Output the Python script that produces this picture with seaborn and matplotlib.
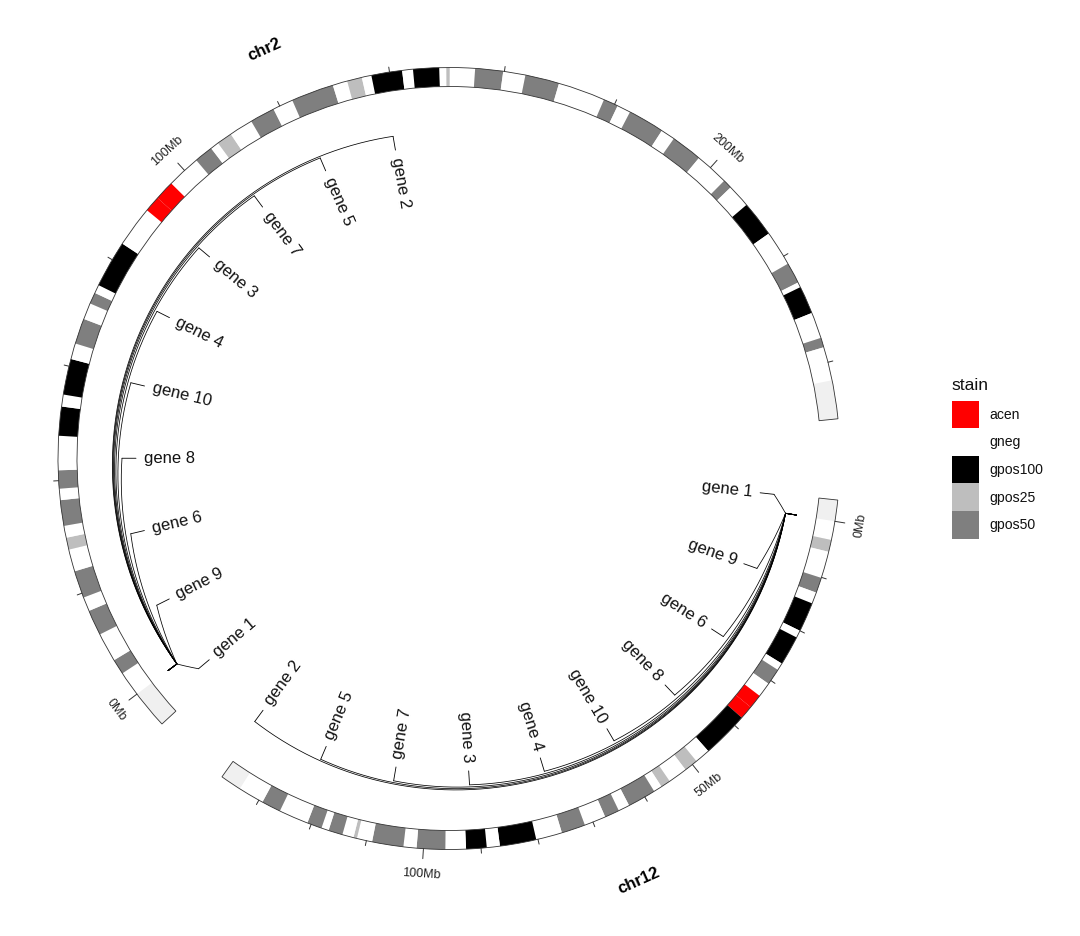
import numpy as np
import pandas as pd
import matplotlib
matplotlib.use("Agg")
import matplotlib.pyplot as plt
from matplotlib.patches import Patch
import seaborn as sns

sns.set_theme(style="white")
plt.rcParams["font.family"] = ["Liberation Sans", "DejaVu Sans"]

# ------------------------------------------------------------------ data
chromosomes = ["chr2", "chr12"]
chrom_length_mb = [243.2, 133.85]

chr2_band_start = [0.0, 4.4, 7.1, 12.2, 16.7, 19.2, 24.0, 27.9, 30.0, 32.1, 36.6, 38.6, 41.8,
                   47.8, 52.9, 55.0, 61.3, 64.1, 68.6, 71.5, 73.5, 75.0, 83.3, 90.5, 93.3, 96.8,
                   102.7, 106.0, 107.5, 110.2, 114.4, 118.8, 122.4, 129.9, 132.5, 135.1, 136.8,
                   142.2, 144.1, 148.7, 149.9, 150.5, 154.9, 159.8, 163.7, 169.7, 178.0, 180.6,
                   183.0, 189.4, 191.9, 197.4, 203.3, 204.9, 209.0, 215.3, 221.5, 225.2, 226.1,
                   231.0, 235.6, 237.3]
chr2_band_end = [4.4, 7.1, 12.2, 16.7, 19.2, 24.0, 27.9, 30.0, 32.1, 36.6, 38.6, 41.8, 47.8,
                 52.9, 55.0, 61.3, 64.1, 68.6, 71.5, 73.5, 75.0, 83.3, 90.5, 93.3, 96.8, 102.7,
                 106.0, 107.5, 110.2, 114.4, 118.8, 122.4, 129.9, 132.5, 135.1, 136.8, 142.2,
                 144.1, 148.7, 149.9, 150.5, 154.9, 159.8, 163.7, 169.7, 178.0, 180.6, 183.0,
                 189.4, 191.9, 197.4, 203.3, 204.9, 209.0, 215.3, 221.5, 225.2, 226.1, 231.0,
                 235.6, 237.3, 243.2]
chr2_band_stain = ["gneg", "gpos50", "gneg", "gpos50", "gneg", "gpos50", "gneg", "gpos25",
                   "gneg", "gpos50", "gneg", "gpos50", "gneg", "gpos100", "gneg", "gpos100",
                   "gneg", "gpos50", "gneg", "gpos50", "gneg", "gpos100", "gneg", "acen", "acen",
                   "gneg", "gpos50", "gneg", "gpos25", "gneg", "gpos50", "gneg", "gpos50", "gneg",
                   "gpos25", "gneg", "gpos100", "gneg", "gpos100", "gneg", "gpos25", "gneg",
                   "gpos50", "gneg", "gpos50", "gneg", "gpos50", "gneg", "gpos50", "gneg",
                   "gpos50", "gneg", "gpos50", "gneg", "gpos100", "gneg", "gpos50", "gneg",
                   "gpos100", "gneg", "gpos50", "gneg"]

chr12_band_start = [0.0, 3.3, 5.4, 10.1, 12.8, 14.8, 20.0, 21.3, 26.5, 27.8, 30.7, 33.3, 35.8,
                    38.2, 46.4, 49.1, 51.5, 54.9, 56.6, 58.1, 63.1, 65.1, 67.7, 71.5, 75.7, 80.3,
                    86.7, 89.0, 92.6, 96.2, 101.2, 103.5, 109.0, 111.7, 112.3, 114.3, 116.8,
                    118.1, 120.7, 125.9, 129.3]
chr12_band_end = [3.3, 5.4, 10.1, 12.8, 14.8, 20.0, 21.3, 26.5, 27.8, 30.7, 33.3, 35.8, 38.2,
                  46.4, 49.1, 51.5, 54.9, 56.6, 58.1, 63.1, 65.1, 67.7, 71.5, 75.7, 80.3, 86.7,
                  89.0, 92.6, 96.2, 101.2, 103.5, 109.0, 111.7, 112.3, 114.3, 116.8, 118.1,
                  120.7, 125.9, 129.3, 133.85]
chr12_band_stain = ["gneg", "gpos25", "gneg", "gpos50", "gneg", "gpos100", "gneg", "gpos100",
                    "gneg", "gpos50", "gneg", "acen", "acen", "gpos100", "gneg", "gpos25",
                    "gneg", "gpos25", "gneg", "gpos50", "gneg", "gpos50", "gneg", "gpos50",
                    "gneg", "gpos100", "gneg", "gpos100", "gneg", "gpos50", "gneg", "gpos50",
                    "gneg", "gpos25", "gneg", "gpos50", "gneg", "gpos50", "gneg", "gpos50",
                    "gneg"]

stain_levels = ["acen", "gneg", "gpos100", "gpos25", "gpos50"]
stain_colors = ["#FF0000", "#FFFFFF", "#000000", "#BEBEBE", "#7F7F7F"]

chr2_tick_mb = [0, 20, 40, 60, 80, 100, 120, 140, 160, 180, 200, 220, 240]
chr2_tick_label_mb = [0, 100, 200]
chr2_tick_labels = ["0Mb", "100Mb", "200Mb"]
chr12_tick_mb = [0, 10, 20, 30, 40, 50, 60, 70, 80, 90, 100, 110, 120, 130]
chr12_tick_label_mb = [0, 50, 100]
chr12_tick_labels = ["0Mb", "50Mb", "100Mb"]

gene_names = ["gene 1", "gene 9", "gene 6", "gene 8", "gene 10",
              "gene 4", "gene 3", "gene 7", "gene 5", "gene 2"]
chr2_gene_pos_mb = [0.0, 0.0, 0.0, 0.0, 0.0, 0.0, 0.0, 0.0, 0.0, 0.0]
chr12_gene_pos_mb = [0.0, 0.0, 0.0, 0.0, 0.0, 0.0, 0.0, 0.0, 0.0, 0.0]
label_pos_mb = [-3.5, 12.3, 28.1, 43.9, 59.7, 75.5, 91.3, 107.1, 122.9, 138.7]

# ------------------------------------------------------------------ layout
W, H, DPI = 1080, 936, 100
CX, CY = 449.0, 458.5          # circle centre in pixels (from top-left)
RMAX = 445.0
R_IN, R_OUT = 372.0, 391.0
K_BAND = 0.845                  # degrees per Mb for bands/ticks/genes
K_BG = 0.892                    # degrees per Mb for chromosome background
mid_deg = {"chr2": 114.3, "chr12": -65.8}
length = dict(zip(chromosomes, chrom_length_mb))

bands = {
    "chr2": pd.DataFrame({"start": chr2_band_start, "end": chr2_band_end, "stain": chr2_band_stain}),
    "chr12": pd.DataFrame({"start": chr12_band_start, "end": chr12_band_end, "stain": chr12_band_stain}),
}
ticks = {"chr2": (chr2_tick_mb, chr2_tick_label_mb, chr2_tick_labels),
         "chr12": (chr12_tick_mb, chr12_tick_label_mb, chr12_tick_labels)}
genes = {"chr2": chr2_gene_pos_mb, "chr12": chr12_gene_pos_mb}
color_of = dict(zip(stain_levels, stain_colors))


def ang_deg(chrom, pos):
    return mid_deg[chrom] + (length[chrom] / 2.0 - np.asarray(pos, dtype=float)) * K_BAND


def ang(chrom, pos):
    return np.deg2rad(ang_deg(chrom, pos))


def tangent_rot(d):
    rot = (d - 90 + 180) % 360 - 180
    if rot > 90:
        rot -= 180
    elif rot < -90:
        rot += 180
    return rot


fig = plt.figure(figsize=(W / DPI, H / DPI), dpi=DPI)
ax = fig.add_axes([(CX - RMAX) / W, (H - CY - RMAX) / H, 2 * RMAX / W, 2 * RMAX / H],
                  projection="polar")
ax.set_theta_zero_location("E")
ax.set_theta_direction(1)
ax.set_ylim(0, RMAX)
ax.set_axis_off()

TXT = "#111111"

for chrom in chromosomes:
    L = length[chrom]
    bg_width = np.deg2rad(L * K_BG)
    # background of chromosome
    ax.bar(np.deg2rad(mid_deg[chrom]), R_OUT - R_IN, width=bg_width, bottom=R_IN,
           color="#F0F0F0", edgecolor="none", align="center", zorder=1)
    # cytobands
    df = bands[chrom]
    a0 = ang(chrom, df["start"].values)
    a1 = ang(chrom, df["end"].values)
    ax.bar((a0 + a1) / 2, R_OUT - R_IN, width=np.abs(a0 - a1), bottom=R_IN,
           color=[color_of[s] for s in df["stain"]], edgecolor="none", align="center",
           linewidth=0, zorder=2)
    # outline
    ax.bar(np.deg2rad(mid_deg[chrom]), R_OUT - R_IN, width=bg_width, bottom=R_IN,
           fill=False, edgecolor="#333333", linewidth=0.6, align="center", zorder=3)

    # ticks
    tick_mb, lab_mb, labs = ticks[chrom]
    for t in tick_mb:
        th = ang(chrom, t)
        ln = 10 if t in lab_mb else 5
        ax.plot([th, th], [R_OUT, R_OUT + ln], color="#333333", lw=0.7, zorder=3)
    for t, s in zip(lab_mb, labs):
        d = float(ang_deg(chrom, t))
        ax.text(np.deg2rad(d), 417, s, rotation=tangent_rot(d), rotation_mode="anchor",
                ha="center", va="center", fontsize=9, color="#222222")

    # chromosome name
    d = mid_deg[chrom]
    ax.text(np.deg2rad(d), 456, chrom, rotation=tangent_rot(d), rotation_mode="anchor",
            ha="center", va="top", fontsize=12, fontweight="bold", color="black")

    # gene labels with connectors
    for name, gp, lp in zip(gene_names, genes[chrom], label_pos_mb):
        tg = float(ang(chrom, gp))
        tl = float(ang(chrom, lp))
        ax.plot([tg, tg], [352, 341], color="black", lw=0.6, zorder=4)
        tt = np.linspace(tg, tl, 300)
        rr = np.linspace(341, 327, 300)
        ax.plot(tt, rr, color="black", lw=0.55, zorder=4)
        ax.plot([tl, tl], [327, 313], color="black", lw=0.6, zorder=4)
        d = np.rad2deg(tl) % 360
        if 90 < d < 270:
            rot, ha = d - 180, "left"
        else:
            rot, ha = (d + 180) % 360 - 180, "right"
        ax.text(tl, 305, name, rotation=rot, rotation_mode="anchor", ha=ha, va="center",
                fontsize=12, color=TXT)

# legend: title drawn as text, keys as patches
fig.text(951 / W, 1 - 386 / H, "stain", ha="left", va="center", fontsize=12.6, color=TXT)
handles = [Patch(facecolor=c, edgecolor="none", label=l) for l, c in zip(stain_levels, stain_colors)]
leg = fig.legend(handles=handles, loc="upper left",
                 bbox_to_anchor=(951.5 / W, 1 - 400.7 / H), frameon=False,
                 fontsize=10.1, handlelength=1.97, handleheight=2.65,
                 handletextpad=0.7, labelspacing=0.0, borderpad=0.0, borderaxespad=0.0)
for t in leg.get_texts():
    t.set_color(TXT)

fig.savefig("out.png", dpi=DPI, facecolor="white")
